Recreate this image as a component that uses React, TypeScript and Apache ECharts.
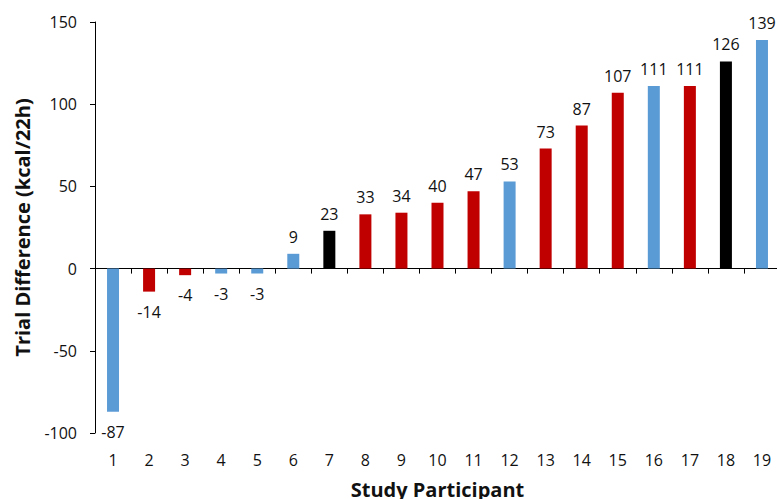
import React, { useEffect, useRef } from "react";
import * as echarts from "echarts";

const participants = ["1","2","3","4","5","6","7","8","9","10","11","12","13","14","15","16","17","18","19"];
const trialDifference = [-87, -14, -4, -3, -3, 9, 23, 33, 34, 40, 47, 53, 73, 87, 107, 111, 111, 126, 139];
const groups = ["blue","red","red","blue","blue","blue","black","red","red","red","red","blue","red","red","red","blue","red","black","blue"];
const yTicks = [-100, -50, 0, 50, 100, 150];

const colorMap: Record<string, string> = { blue: "#5B9BD5", red: "#C00000", black: "#000000" };
const FONT = "Open Sans";

export default function App() {
  const ref = useRef<HTMLDivElement>(null);
  useEffect(() => {
    if (!ref.current) return;
    const chart = echarts.init(ref.current, undefined, { renderer: "svg" });
    chart.setOption({
      animation: false,
      backgroundColor: "#ffffff",
      grid: { left: 95, top: 22, width: 685, height: 411, containLabel: false, outerBoundsMode: "none" },
      xAxis: [
        {
          type: "category",
          data: participants,
          position: "bottom",
          axisLine: { show: true, onZero: true, lineStyle: { color: "#000", width: 1 } },
          axisTick: { show: true, length: 5, lineStyle: { color: "#000" } },
          axisLabel: { show: false },
        },
        {
          type: "category",
          data: participants,
          position: "bottom",
          axisLine: { show: false, onZero: false },
          axisTick: { show: false },
          axisLabel: { show: true, margin: 19, fontSize: 16, fontFamily: FONT, color: "#111" },
          name: "Study Participant",
          nameLocation: "middle",
          nameGap: 46,
          nameTextStyle: { fontSize: 20, fontWeight: "bold", fontFamily: FONT, color: "#111" },
        },
      ],
      yAxis: {
        type: "value",
        min: yTicks[0],
        max: yTicks[yTicks.length - 1],
        interval: 50,
        axisLine: { show: true, lineStyle: { color: "#000", width: 1 } },
        axisTick: { show: true, length: 5, lineStyle: { color: "#000" } },
        splitLine: { show: false },
        axisLabel: { fontSize: 16, fontFamily: FONT, color: "#111", margin: 18 },
        name: "Trial Difference (kcal/22h)",
        nameLocation: "middle",
        nameGap: 63,
        nameTextStyle: { fontSize: 20, fontWeight: "bold", fontFamily: FONT, color: "#111" },
      },
      series: [
        {
          type: "bar",
          xAxisIndex: 0,
          barWidth: 12,
          data: trialDifference.map((v, i) => ({
            value: v,
            itemStyle: { color: colorMap[groups[i]] },
            label: { position: v < 0 ? "bottom" : "top", distance: v < 0 ? 12 : 9 },
          })),
          label: {
            show: true,
            fontSize: 16,
            fontFamily: FONT,
            color: "#111",
          },
        },
      ],
    });
    return () => chart.dispose();
  }, []);
  return <div ref={ref} style={{ position: "absolute", left: 0, top: 0, width: 777, height: 499 }} />;
}
